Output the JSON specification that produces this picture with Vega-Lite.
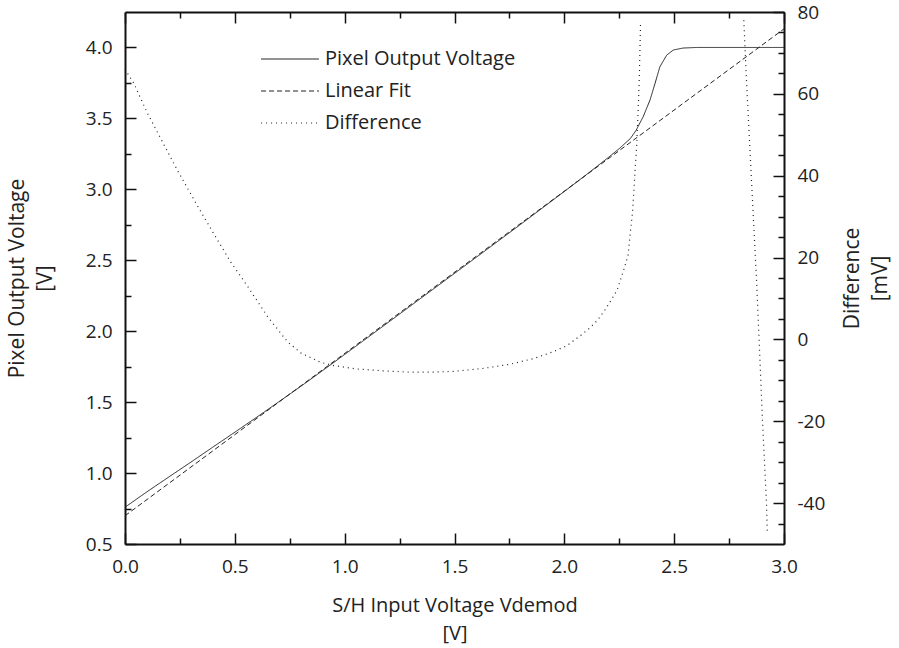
{
  "$schema": "https://vega.github.io/schema/vega-lite/v6.json",
  "width": 659,
  "height": 532,
  "autosize": {"type": "none"},
  "padding": {"left": 125, "top": 12, "right": 115, "bottom": 104},
  "background": "white",
  "config": {
    "view": {"stroke": null},
    "font": "Open Sans",
    "axis": {"grid": false, "domainColor": "#111", "domainWidth": 2, "tickColor": "#111", "tickWidth": 1.5, "labelColor": "#222", "titleColor": "#222", "labelFont": "Open Sans", "titleFont": "Open Sans", "labelFontSize": 19, "titleFontSize": 20, "titleFontWeight": "normal", "titleLineHeight": 28, "labelFlush": false, "labelOverlap": false}
  },
  "datasets": {
    "pixel": [
      {"v": 0.0, "y": 0.759, "series": "Pixel Output Voltage"},
      {"v": 0.1, "y": 0.868, "series": "Pixel Output Voltage"},
      {"v": 0.2, "y": 0.973, "series": "Pixel Output Voltage"},
      {"v": 0.3, "y": 1.077, "series": "Pixel Output Voltage"},
      {"v": 0.4, "y": 1.183, "series": "Pixel Output Voltage"},
      {"v": 0.5, "y": 1.288, "series": "Pixel Output Voltage"},
      {"v": 0.6, "y": 1.394, "series": "Pixel Output Voltage"},
      {"v": 0.7, "y": 1.502, "series": "Pixel Output Voltage"},
      {"v": 0.8, "y": 1.611, "series": "Pixel Output Voltage"},
      {"v": 0.9, "y": 1.723, "series": "Pixel Output Voltage"},
      {"v": 1.0, "y": 1.836, "series": "Pixel Output Voltage"},
      {"v": 1.2, "y": 2.064, "series": "Pixel Output Voltage"},
      {"v": 1.4, "y": 2.293, "series": "Pixel Output Voltage"},
      {"v": 1.6, "y": 2.522, "series": "Pixel Output Voltage"},
      {"v": 1.8, "y": 2.752, "series": "Pixel Output Voltage"},
      {"v": 2.0, "y": 2.985, "series": "Pixel Output Voltage"},
      {"v": 2.1, "y": 3.103, "series": "Pixel Output Voltage"},
      {"v": 2.2, "y": 3.224, "series": "Pixel Output Voltage"},
      {"v": 2.25, "y": 3.287, "series": "Pixel Output Voltage"},
      {"v": 2.3, "y": 3.357, "series": "Pixel Output Voltage"},
      {"v": 2.326, "y": 3.414, "series": "Pixel Output Voltage"},
      {"v": 2.359, "y": 3.512, "series": "Pixel Output Voltage"},
      {"v": 2.39, "y": 3.629, "series": "Pixel Output Voltage"},
      {"v": 2.413, "y": 3.747, "series": "Pixel Output Voltage"},
      {"v": 2.435, "y": 3.864, "series": "Pixel Output Voltage"},
      {"v": 2.466, "y": 3.946, "series": "Pixel Output Voltage"},
      {"v": 2.496, "y": 3.982, "series": "Pixel Output Voltage"},
      {"v": 2.541, "y": 3.996, "series": "Pixel Output Voltage"},
      {"v": 2.602, "y": 4.0, "series": "Pixel Output Voltage"},
      {"v": 3.0, "y": 4.0, "series": "Pixel Output Voltage"}
    ],
    "fit": [
      {"v": 0.0, "y": 0.699, "series": "Linear Fit"},
      {"v": 3.0, "y": 4.131, "series": "Linear Fit"}
    ],
    "diff": [
      {"v": 0.0, "d": 66.0, "seg": 1, "series": "Difference"},
      {"v": 0.04, "d": 62.6, "seg": 1, "series": "Difference"},
      {"v": 0.1, "d": 55.5, "seg": 1, "series": "Difference"},
      {"v": 0.18, "d": 47.3, "seg": 1, "series": "Difference"},
      {"v": 0.24, "d": 41.2, "seg": 1, "series": "Difference"},
      {"v": 0.33, "d": 32.6, "seg": 1, "series": "Difference"},
      {"v": 0.4, "d": 26.2, "seg": 1, "series": "Difference"},
      {"v": 0.48, "d": 19.0, "seg": 1, "series": "Difference"},
      {"v": 0.55, "d": 13.6, "seg": 1, "series": "Difference"},
      {"v": 0.65, "d": 5.5, "seg": 1, "series": "Difference"},
      {"v": 0.74, "d": -0.6, "seg": 1, "series": "Difference"},
      {"v": 0.8, "d": -3.3, "seg": 1, "series": "Difference"},
      {"v": 0.89, "d": -5.6, "seg": 1, "series": "Difference"},
      {"v": 0.95, "d": -6.4, "seg": 1, "series": "Difference"},
      {"v": 1.05, "d": -7.2, "seg": 1, "series": "Difference"},
      {"v": 1.18, "d": -7.7, "seg": 1, "series": "Difference"},
      {"v": 1.3, "d": -8.0, "seg": 1, "series": "Difference"},
      {"v": 1.4, "d": -8.0, "seg": 1, "series": "Difference"},
      {"v": 1.5, "d": -7.8, "seg": 1, "series": "Difference"},
      {"v": 1.63, "d": -7.1, "seg": 1, "series": "Difference"},
      {"v": 1.75, "d": -6.1, "seg": 1, "series": "Difference"},
      {"v": 1.86, "d": -4.7, "seg": 1, "series": "Difference"},
      {"v": 1.95, "d": -3.0, "seg": 1, "series": "Difference"},
      {"v": 2.01, "d": -1.6, "seg": 1, "series": "Difference"},
      {"v": 2.07, "d": 0.8, "seg": 1, "series": "Difference"},
      {"v": 2.11, "d": 2.5, "seg": 1, "series": "Difference"},
      {"v": 2.15, "d": 4.6, "seg": 1, "series": "Difference"},
      {"v": 2.19, "d": 7.6, "seg": 1, "series": "Difference"},
      {"v": 2.24, "d": 12.0, "seg": 1, "series": "Difference"},
      {"v": 2.27, "d": 16.9, "seg": 1, "series": "Difference"},
      {"v": 2.29, "d": 20.5, "seg": 1, "series": "Difference"},
      {"v": 2.3, "d": 25.9, "seg": 1, "series": "Difference"},
      {"v": 2.31, "d": 30.8, "seg": 1, "series": "Difference"},
      {"v": 2.317, "d": 36.5, "seg": 1, "series": "Difference"},
      {"v": 2.323, "d": 42.2, "seg": 1, "series": "Difference"},
      {"v": 2.329, "d": 47.0, "seg": 1, "series": "Difference"},
      {"v": 2.336, "d": 56.0, "seg": 1, "series": "Difference"},
      {"v": 2.341, "d": 63.4, "seg": 1, "series": "Difference"},
      {"v": 2.347, "d": 77.2, "seg": 1, "series": "Difference"},
      {"v": 2.817, "d": 78.0, "seg": 2, "series": "Difference"},
      {"v": 2.829, "d": 63.4, "seg": 2, "series": "Difference"},
      {"v": 2.852, "d": 38.9, "seg": 2, "series": "Difference"},
      {"v": 2.875, "d": 14.5, "seg": 2, "series": "Difference"},
      {"v": 2.89, "d": -4.3, "seg": 2, "series": "Difference"},
      {"v": 2.902, "d": -19.8, "seg": 2, "series": "Difference"},
      {"v": 2.92, "d": -39.7, "seg": 2, "series": "Difference"},
      {"v": 2.924, "d": -46.9, "seg": 2, "series": "Difference"}
    ]
  },
  "layer": [
    {
      "encoding": {
        "x": {
          "field": "v", "type": "quantitative",
          "scale": {"domain": [0, 3], "nice": false, "zero": false},
          "axis": {
            "orient": "bottom",
            "values": [0, 0.25, 0.5, 0.75, 1, 1.25, 1.5, 1.75, 2, 2.25, 2.5, 2.75, 3],
            "labelExpr": "datum.value % 0.5 === 0 ? format(datum.value, '.1f') : ''",
            "tickSize": {"condition": {"test": "datum.value % 0.5 === 0", "value": -11}, "value": -6},
            "labelPadding": 24,
            "title": ["S/H Input Voltage Vdemod", "[V]"],
            "titlePadding": 14
          }
        },
        "y": {
          "field": "y", "type": "quantitative",
          "scale": {"domain": [0.5, 4.25], "nice": false, "zero": false},
          "axis": {
            "orient": "left",
            "values": [0.5, 0.75, 1, 1.25, 1.5, 1.75, 2, 2.25, 2.5, 2.75, 3, 3.25, 3.5, 3.75, 4],
            "labelExpr": "datum.value % 0.5 === 0 ? format(datum.value, '.1f') : ''",
            "tickSize": {"condition": {"test": "datum.value % 0.5 === 0", "value": -11}, "value": -6},
            "labelPadding": 24,
            "title": ["Pixel Output Voltage", "[V]"],
            "titleFontSize": 21,
            "titlePadding": 30
          }
        },
        "strokeDash": {
          "field": "series", "type": "nominal",
          "scale": {"domain": ["Pixel Output Voltage", "Linear Fit", "Difference"], "range": [[1, 0], [5, 3], [1, 4]]},
          "legend": {
            "title": null, "orient": "none", "legendX": 155, "legendY": 37,
            "symbolType": "M-5,0H5", "symbolSize": 134, "symbolStrokeWidth": 1,
            "symbolStrokeColor": "#222", "symbolFillColor": "transparent",
            "labelFont": "Open Sans", "labelFontSize": 20, "labelColor": "#222", "labelLimit": 0,
            "labelOffset": 25, "rowPadding": 12, "padding": 0
          }
        }
      },
      "layer": [
        {"data": {"name": "pixel"}, "mark": {"type": "line", "color": "#222", "strokeWidth": 1}},
        {"data": {"name": "fit"}, "mark": {"type": "line", "color": "#222", "strokeWidth": 1}}
      ]
    },
    {
      "data": {"name": "diff"},
      "mark": {"type": "line", "color": "#222", "strokeWidth": 1.2},
      "encoding": {
        "x": {
          "field": "v", "type": "quantitative",
          "scale": {"domain": [0, 3], "nice": false, "zero": false},
          "axis": {
            "orient": "top",
            "values": [0, 0.25, 0.5, 0.75, 1, 1.25, 1.5, 1.75, 2, 2.25, 2.5, 2.75, 3],
            "labels": false,
            "tickSize": {"condition": {"test": "datum.value % 0.5 === 0", "value": -11}, "value": -6},
            "title": null
          }
        },
        "y": {
          "field": "d", "type": "quantitative",
          "scale": {"domain": [-50, 80], "nice": false, "zero": false},
          "axis": {
            "orient": "right",
            "values": [-45, -40, -35, -30, -25, -20, -15, -10, -5, 0, 5, 10, 15, 20, 25, 30, 35, 40, 45, 50, 55, 60, 65, 70, 75, 80],
            "labelExpr": "datum.value % 20 === 0 ? '' + datum.value : ''",
            "tickSize": {"condition": {"test": "datum.value % 20 === 0", "value": -11}, "value": -6},
            "labelPadding": 24,
            "title": ["Difference", "[mV]"],
            "titleFontSize": 21,
            "titleAngle": -90,
            "titleBaseline": "top",
            "titlePadding": -11
          }
        },
        "detail": {"field": "seg", "type": "nominal"},
        "strokeDash": {"field": "series", "type": "nominal"}
      }
    }
  ],
  "resolve": {"scale": {"y": "independent"}, "axis": {"x": "independent"}}
}
